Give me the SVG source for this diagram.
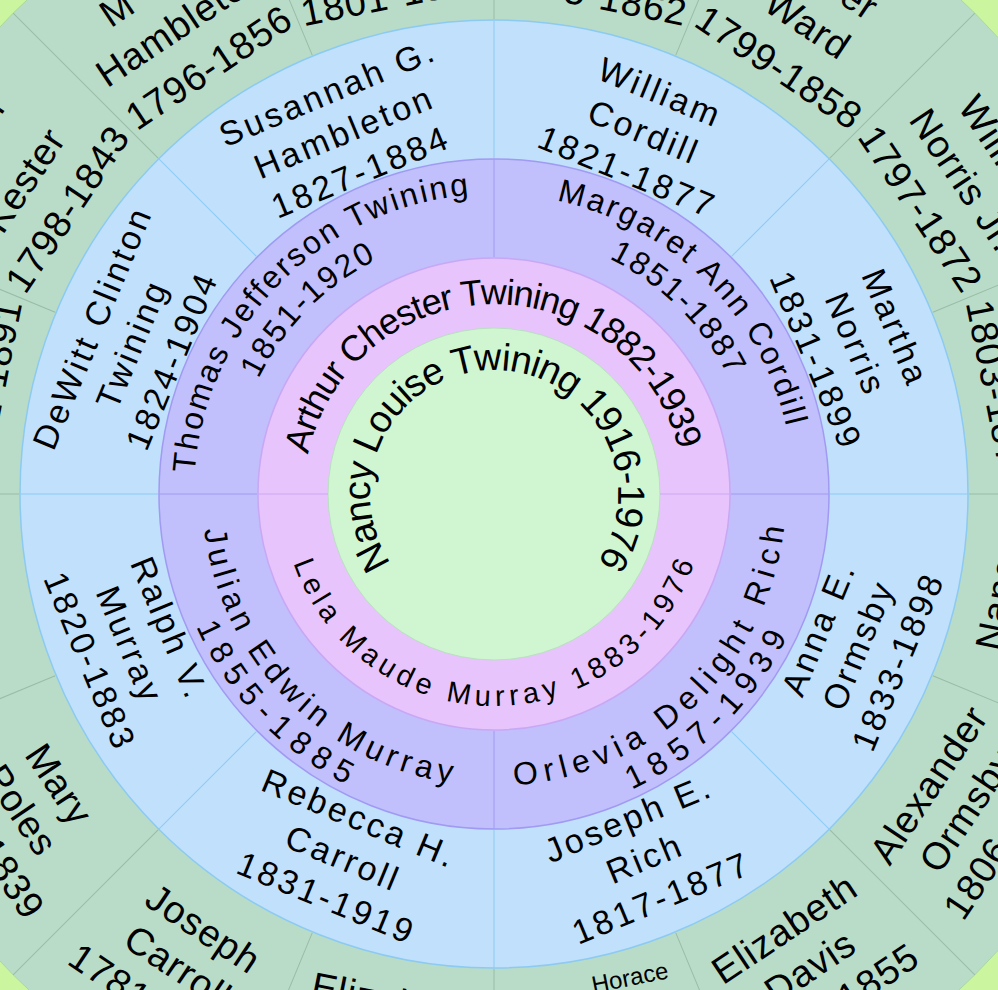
<svg xmlns="http://www.w3.org/2000/svg" width="998" height="990" viewBox="0 0 998 990">
<style>
text{font-family:"Liberation Sans",Arial,sans-serif;fill:#000}
.g{font-size:38px;letter-spacing:1px;text-anchor:middle}
.b{font-size:34px;letter-spacing:3px;text-anchor:middle}
.dg{stroke:#98bca6;stroke-width:1}
.db{stroke:#8ccaf2;stroke-width:1}
.dp{stroke:#a09af2;stroke-width:1}
</style>
<defs>
<path id="aNancy" d="M391.2,563.3 A124,124 0 1 1 593.7,567.8" fill="none"/>
<path id="aArthur" d="M308.2,454.5 A190,190 0 0 1 679.8,454.5" fill="none"/>
<path id="aLela" d="M293.5,563 A212,212 0 0 0 696.7,556" fill="none"/>
<path id="aTJo" d="M194.7,473.1 A300,300 0 0 1 473.1,194.7" fill="none"/>
<path id="aTJi" d="M258.5,379.1 A262,262 0 0 1 379.1,258.5" fill="none"/>
<path id="aMAo" d="M556.4,200.6 A300,300 0 0 1 787.4,431.6" fill="none"/>
<path id="aMAi" d="M608.9,258.5 A262,262 0 0 1 729.5,379.1" fill="none"/>
<path id="aJEi" d="M204.2,529.6 A292,292 0 0 0 458.4,783.8" fill="none"/>
<path id="aJEo" d="M196.2,626.6 A326,326 0 0 0 351.1,787" fill="none"/>
<path id="aODi" d="M514.4,785.3 A292,292 0 0 0 784.9,519.5" fill="none"/>
<path id="aODo" d="M631.8,789.5 A326,326 0 0 0 789.5,631.8" fill="none"/>
</defs>
<rect width="998" height="990" fill="#ccf5a0"/>
<g id="rings">
<circle cx="494" cy="494" r="680" fill="#b9dcc8" stroke="#a8d8a0" stroke-width="1"/>
<circle cx="494" cy="494" r="474" fill="#c0e0fc" stroke="#8ccaf2" stroke-width="1.5"/>
<circle cx="494" cy="494" r="335" fill="#c1bffc" stroke="#a09af2" stroke-width="1.5"/>
<circle cx="494" cy="494" r="236" fill="#e8c4fc" stroke="#c8a8f4" stroke-width="1.5"/>
<circle cx="494" cy="494" r="166" fill="#cff6d0" stroke="#b8e0c0" stroke-width="1"/>
</g>
<g id="connectors" transform="translate(494 494)">
<g class="dg">
<line x1="475" x2="680" transform="rotate(0)"/><line x1="475" x2="680" transform="rotate(22.5)"/><line x1="475" x2="680" transform="rotate(45)"/><line x1="475" x2="680" transform="rotate(67.5)"/><line x1="475" x2="680" transform="rotate(90)"/><line x1="475" x2="680" transform="rotate(112.5)"/><line x1="475" x2="680" transform="rotate(135)"/><line x1="475" x2="680" transform="rotate(157.5)"/><line x1="475" x2="680" transform="rotate(180)"/><line x1="475" x2="680" transform="rotate(202.5)"/><line x1="475" x2="680" transform="rotate(225)"/><line x1="475" x2="680" transform="rotate(247.5)"/><line x1="475" x2="680" transform="rotate(270)"/><line x1="475" x2="680" transform="rotate(292.5)"/><line x1="475" x2="680" transform="rotate(315)"/><line x1="475" x2="680" transform="rotate(337.5)"/>
</g>
<g class="db">
<line x1="336" x2="474" transform="rotate(0)"/><line x1="336" x2="474" transform="rotate(45)"/><line x1="336" x2="474" transform="rotate(90)"/><line x1="336" x2="474" transform="rotate(135)"/><line x1="336" x2="474" transform="rotate(180)"/><line x1="336" x2="474" transform="rotate(225)"/><line x1="336" x2="474" transform="rotate(270)"/><line x1="336" x2="474" transform="rotate(315)"/>
</g>
<g class="dp">
<line x1="237" x2="335" transform="rotate(0)"/><line x1="237" x2="335" transform="rotate(90)"/><line x1="237" x2="335" transform="rotate(180)"/><line x1="237" x2="335" transform="rotate(270)"/>
<line x1="166" x2="236" transform="rotate(0)" stroke="#c8a8f4"/><line x1="166" x2="236" transform="rotate(180)" stroke="#c8a8f4"/>
</g>
</g>
<g id="n-nancy"><text font-size="38"><textPath href="#aNancy" textLength="535" lengthAdjust="spacing">Nancy Louise Twining 1916-1976</textPath></text></g>
<g id="n-arthur"><text font-size="36"><textPath href="#aArthur" textLength="512" lengthAdjust="spacing">Arthur Chester Twining 1882-1939</textPath></text></g>
<g id="n-lela"><text font-size="29"><textPath href="#aLela" textLength="525" lengthAdjust="spacing">Lela Maude Murray 1883-1976</textPath></text></g>
<g id="n-thomas"><text font-size="32"><textPath href="#aTJo" textLength="425" lengthAdjust="spacing">Thomas Jefferson Twining</textPath></text><text font-size="32"><textPath href="#aTJi" textLength="170" lengthAdjust="spacing">1851-1920</textPath></text></g>
<g id="n-margaret"><text font-size="32"><textPath href="#aMAo" textLength="340" lengthAdjust="spacing">Margaret Ann Cordill</textPath></text><text font-size="32"><textPath href="#aMAi" textLength="170" lengthAdjust="spacing">1851-1887</textPath></text></g>
<g id="n-julian"><text font-size="32"><textPath href="#aJEi" textLength="380" lengthAdjust="spacing">Julian Edwin Murray</textPath></text><text font-size="32"><textPath href="#aJEo" textLength="222" lengthAdjust="spacing">1855-1885</textPath></text></g>
<g id="n-orlevia"><text font-size="32"><textPath href="#aODi" textLength="405" lengthAdjust="spacing">Orlevia Delight Rich</textPath></text><text font-size="32"><textPath href="#aODo" textLength="222" lengthAdjust="spacing">1857-1939</textPath></text></g>
<g id="n-dewitt" class="b" transform="translate(494 494) rotate(-67.5)"><text y="-423">DeWitt Clinton</text><text y="-380">Twining</text><text y="-337">1824-1904</text></g>
<g id="n-susannah" class="b" transform="translate(494 494) rotate(-22.5)"><text y="-423">Susannah G.</text><text y="-380">Hambleton</text><text y="-337">1827-1884</text></g>
<g id="n-william" class="b" transform="translate(494 494) rotate(22.5)"><text y="-423">William</text><text y="-380">Cordill</text><text y="-337">1821-1877</text></g>
<g id="n-martha" class="b" transform="translate(494 494) rotate(67.5)"><text y="-423">Martha</text><text y="-380">Norris</text><text y="-337">1831-1899</text></g>
<g id="n-anna" class="b" transform="translate(494 494) rotate(-67.5)"><text y="363">Anna E.</text><text y="406">Ormsby</text><text y="449">1833-1898</text></g>
<g id="n-joseph" class="b" transform="translate(494 494) rotate(-22.5)"><text y="363">Joseph E.</text><text y="406">Rich</text><text y="449">1817-1877</text></g>
<g id="n-rebecca" class="b" transform="translate(494 494) rotate(22.5)"><text y="363">Rebecca H.</text><text y="406">Carroll</text><text y="449">1831-1919</text></g>
<g id="n-ralph" class="b" transform="translate(494 494) rotate(67.5)"><text y="363">Ralph V.</text><text y="406">Murray</text><text y="449">1820-1883</text></g>
<g id="n-g1" class="g" transform="translate(494 494) rotate(-78.75)"><text y="-500">1801-1891</text></g>
<g id="n-g2" class="g" transform="translate(494 494) rotate(-56.25)"><text y="-620" x="50" text-anchor="end">Mary Ann</text><text y="-552">Kester</text><text y="-500">1798-1843</text></g>
<g id="n-g3" class="g" transform="translate(494 494) rotate(-33.75)"><text y="-600" x="-60" text-anchor="start">M</text><text y="-552">Hambleton</text><text y="-500">1796-1856</text></g>
<g id="n-g4" class="g" transform="translate(494 494) rotate(-11.25)"><text y="-496">1801-1880</text></g>
<g id="n-g5" class="g" transform="translate(494 494) rotate(11.25)"><text y="-496">1795-1862</text></g>
<g id="n-g6" class="g" transform="translate(494 494) rotate(33.75)"><text y="-600" x="48" text-anchor="end">Esther</text><text y="-552">Ward</text><text y="-500">1799-1858</text></g>
<g id="n-g7" class="g" transform="translate(494 494) rotate(56.25)"><text y="-600">William</text><text y="-552">Norris Jr.</text><text y="-500">1797-1872</text></g>
<g id="n-g8" class="g" transform="translate(494 494) rotate(78.75)"><text y="-500">1803-1870</text></g>
<g id="n-g9" class="g" transform="translate(494 494) rotate(-78.75)"><text y="528">Nancy</text></g>
<g id="n-g10" class="g" transform="translate(494 494) rotate(-56.25)"><text y="536">Alexander</text><text y="582">Ormsby</text><text y="628">1806-1880</text></g>
<g id="n-g11" class="g" transform="translate(494 494) rotate(-33.75)"><text y="536">Elizabeth</text><text y="582">Davis</text><text y="628">1785-1855</text></g>
<g id="n-g12" transform="translate(494 494) rotate(-11.25)"><text y="509" x="39" font-size="24" text-anchor="middle">Horace</text></g>
<g id="n-g13" class="g" transform="translate(494 494) rotate(11.25)"><text y="530">Elizabeth</text></g>
<g id="n-g14" class="g" transform="translate(494 494) rotate(33.75)"><text y="536">Joseph</text><text y="582">Carroll</text><text y="628">1781-1850</text></g>
<g id="n-g15" class="g" transform="translate(494 494) rotate(56.25)"><text y="536">Mary</text><text y="582">Poles</text><text y="628">1795-1839</text></g>
<g id="n-g16" class="g" transform="translate(494 494) rotate(78.75)"><text y="536">William</text></g>
</svg>
